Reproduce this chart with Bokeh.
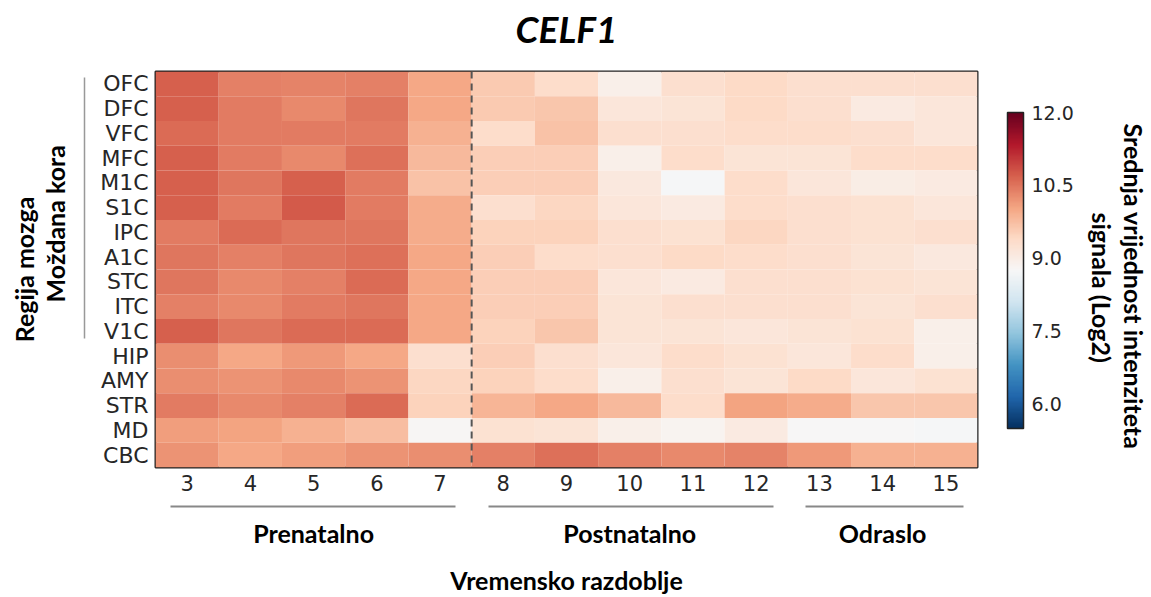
from bokeh.plotting import figure
from bokeh.models import (LinearColorMapper, ColorBar, FixedTicker, PrintfTickFormatter,
                          Span, Range1d, ColumnDataSource, LinearAxis, Title)
from bokeh.embed import file_html
from bokeh.resources import INLINE

# ---------------- data ----------------
regions = ["OFC", "DFC", "VFC", "MFC", "M1C", "S1C", "IPC", "A1C", "STC", "ITC", "V1C",
           "HIP", "AMY", "STR", "MD", "CBC"]
periods = [3, 4, 5, 6, 7, 8, 9, 10, 11, 12, 13, 14, 15]

OFC = [10.70, 10.40, 10.35, 10.40, 10.00, 9.60, 9.35, 8.95, 9.30, 9.40, 9.30, 9.30, 9.30]
DFC = [10.70, 10.45, 10.30, 10.50, 10.00, 9.60, 9.65, 9.15, 9.20, 9.40, 9.30, 9.05, 9.15]
VFC = [10.60, 10.45, 10.45, 10.45, 9.90, 9.35, 9.70, 9.30, 9.30, 9.35, 9.35, 9.30, 9.15]
MFC = [10.70, 10.45, 10.30, 10.55, 9.80, 9.55, 9.55, 8.95, 9.35, 9.20, 9.20, 9.35, 9.35]
M1C = [10.70, 10.50, 10.70, 10.45, 9.70, 9.55, 9.55, 9.10, 8.70, 9.35, 9.15, 9.00, 9.05]
S1C = [10.70, 10.45, 10.75, 10.45, 9.95, 9.30, 9.45, 9.15, 9.05, 9.35, 9.30, 9.25, 9.15]
IPC = [10.45, 10.60, 10.50, 10.50, 9.95, 9.50, 9.50, 9.30, 9.25, 9.45, 9.30, 9.25, 9.30]
A1C = [10.50, 10.40, 10.50, 10.55, 10.00, 9.55, 9.35, 9.30, 9.40, 9.35, 9.30, 9.20, 9.10]
STC = [10.50, 10.30, 10.40, 10.60, 10.00, 9.55, 9.55, 9.15, 9.05, 9.30, 9.30, 9.25, 9.20]
ITC = [10.40, 10.30, 10.45, 10.50, 10.00, 9.55, 9.55, 9.20, 9.30, 9.30, 9.30, 9.20, 9.30]
V1C = [10.70, 10.50, 10.60, 10.60, 10.00, 9.50, 9.65, 9.20, 9.20, 9.15, 9.20, 9.25, 8.95]
HIP = [10.25, 10.00, 10.15, 10.00, 9.30, 9.55, 9.30, 9.15, 9.35, 9.25, 9.15, 9.35, 8.95]
AMY = [10.25, 10.20, 10.30, 10.20, 9.45, 9.50, 9.35, 8.95, 9.30, 9.20, 9.40, 9.15, 9.25]
STR = [10.45, 10.30, 10.40, 10.60, 9.50, 9.85, 10.00, 9.80, 9.35, 10.05, 9.95, 9.65, 9.65]
MD = [10.10, 10.05, 9.90, 9.75, 8.80, 9.25, 9.20, 8.95, 8.85, 9.05, 8.75, 8.75, 8.70]
CBC = [10.20, 10.00, 10.10, 10.20, 10.25, 10.40, 10.55, 10.40, 10.30, 10.35, 10.15, 9.90, 9.90]

region_values = [OFC, DFC, VFC, MFC, M1C, S1C, IPC, A1C, STC, ITC, V1C, HIP, AMY, STR, MD, CBC]

prenatal = [3, 4, 5, 6, 7]
postnatal = [8, 9, 10, 11, 12]
adult = [13, 14, 15]
group_names = ["Prenatalno", "Postnatalno", "Odraslo"]

color_low, color_high = 5.5, 12.0
color_ticks = [6.0, 7.5, 9.0, 10.5, 12.0]

title_text = "CELF1"
x_title = "Vremensko razdoblje"
y_title = "Regija mozga"
cortex_title = "Moždana kora"
cbar_title_1 = "Srednja vrijednost intenziteta"
cbar_title_2 = "signala (Log2)"

# ---------------- palette (RdBu_r) ----------------
rdbu_r = ["#053061", "#2166ac", "#4393c3", "#92c5de", "#d1e5f0", "#f7f7f7",
          "#fddbc7", "#f4a582", "#d6604d", "#b2182b", "#67001f"]


def hex2rgb(h):
    return tuple(int(h[i:i + 2], 16) for i in (1, 3, 5))


def interp_palette(stops, n=256):
    out = []
    rgb = [hex2rgb(s) for s in stops]
    for i in range(n):
        t = i / (n - 1) * (len(rgb) - 1)
        k = min(int(t), len(rgb) - 2)
        f = t - k
        c = [round(rgb[k][j] + (rgb[k + 1][j] - rgb[k][j]) * f) for j in range(3)]
        out.append("#%02x%02x%02x" % tuple(c))
    return out


palette = interp_palette(rdbu_r)

xs, ys, vs = [], [], []
for ri, vals in enumerate(region_values):
    for ci, v in enumerate(vals):
        xs.append(periods[ci])
        ys.append(ri)
        vs.append(v)
source = ColumnDataSource(dict(x=xs, y=ys, v=vs))

# ---------------- figure ----------------
W, H = 1151, 597
FL, FT, FR, FB = 155, 71, 977, 467   # heatmap frame (pixels)
x_lo, x_hi = periods[0] - 0.5, periods[-1] + 0.5
y_top, y_bot = -0.5, len(regions) - 0.5

p = figure(width=W, height=H, output_backend="svg", toolbar_location=None,
           x_range=Range1d(x_lo, x_hi), y_range=Range1d(y_bot, y_top),
           min_border_left=FL, min_border_top=FT,
           min_border_right=W - FR, min_border_bottom=H - FB)
p.title.visible = False
p.background_fill_color = "white"
p.border_fill_color = "white"
p.outline_line_color = "#222222"
p.outline_line_width = 2
p.grid.visible = False

mapper = LinearColorMapper(palette=palette, low=color_low, high=color_high)
p.rect(x="x", y="y", width=1, height=1, source=source,
       fill_color={"field": "v", "transform": mapper}, line_color=None)

# dashed separator between prenatal and postnatal periods
p.add_layout(Span(location=(prenatal[-1] + postnatal[0]) / 2, dimension="height",
                  line_color="#555555", line_width=2, line_dash="7 5"))

sx = (FR - FL) / (x_hi - x_lo)
sy = (FB - FT) / (y_bot - y_top)


def dx(px):
    return x_lo + (px - FL) / sx


def dy(py):
    return y_top + (py - FT) / sy


def hide_ticks(ax):
    ax.axis_line_color = None
    ax.major_tick_line_color = None
    ax.minor_tick_line_color = None
    ax.major_tick_out = 0
    ax.minor_tick_out = 0
    ax.major_tick_in = 0
    ax.minor_tick_in = 0


def spacer_axis(standoff):
    ax = LinearAxis(ticker=FixedTicker(ticks=[]), axis_label=" ",
                    axis_label_text_font_size="1px", axis_label_standoff=standoff,
                    major_label_standoff=0)
    hide_ticks(ax)
    return ax


# main axes
xa = p.xaxis[0]
ya = p.yaxis[0]
hide_ticks(xa)
hide_ticks(ya)
xa.ticker = FixedTicker(ticks=periods)
ya.ticker = FixedTicker(ticks=list(range(len(regions))))
ya.major_label_overrides = {i: r for i, r in enumerate(regions)}
for ax in (xa, ya):
    ax.major_label_text_font = "DejaVu Sans"
    ax.major_label_text_color = "#262626"
xa.major_label_text_font_size = "21px"
xa.major_label_standoff = 7
xa.axis_label = " "
xa.axis_label_text_font_size = "1px"
xa.axis_label_standoff = 9
ya.major_label_text_font_size = "22px"
ya.major_label_standoff = 7
ya.axis_label = " "
ya.axis_label_text_font_size = "1px"
ya.axis_label_standoff = 9

# ---- above: title ----
top_ax = LinearAxis(ticker=FixedTicker(ticks=[]), axis_label=title_text,
                    axis_label_text_font="Lato", axis_label_text_font_size="37px",
                    axis_label_text_font_style="bold italic", axis_label_text_color="black",
                    axis_label_standoff=21, major_label_standoff=0)
hide_ticks(top_ax)
p.add_layout(top_ax, "above")

# ---- below: group axis with separated lines, and x title ----
group_centers = [sum(g) / len(g) for g in (prenatal, postnatal, adult)]
grp_ax = LinearAxis(ticker=FixedTicker(ticks=group_centers),
                    major_label_overrides={c: n for c, n in zip(group_centers, group_names)},
                    major_label_text_font="Lato", major_label_text_font_size="25px",
                    major_label_text_font_style="bold", major_label_text_color="black",
                    major_label_standoff=11,
                    axis_label=x_title, axis_label_text_font="Lato",
                    axis_label_text_font_size="25px", axis_label_text_font_style="bold",
                    axis_label_text_color="black", axis_label_standoff=14)
hide_ticks(grp_ax)
grp_ax.axis_line_color = "#888888"
grp_ax.axis_line_width = 2
grp_ax.bounds = (dx(170), dx(963))
grp_ax.axis_line_dash = "285 33 285 32 158 400"
p.add_layout(grp_ax, "below")

# ---- left: cortex bracket line, cortex title, region title ----
line_ax = spacer_axis(10)
line_ax.axis_line_color = "#999999"
line_ax.axis_line_width = 1.5
line_ax.bounds = (dy(77), dy(338))
p.add_layout(line_ax, "left")

p.add_layout(Title(text=cortex_title, text_font="Lato", text_font_size="25px",
                   text_font_style="bold", text_color="black", align="left",
                   vertical_align="middle", offset=165, standoff=0), "left")

reg_ax = LinearAxis(ticker=FixedTicker(ticks=[]), axis_label=y_title,
                    axis_label_text_font="Lato", axis_label_text_font_size="25px",
                    axis_label_text_font_style="bold", axis_label_text_color="black",
                    axis_label_standoff=0, major_label_standoff=0)
hide_ticks(reg_ax)
p.add_layout(reg_ax, "left")

# ---- right: spacer, colour bar titles ----
p.add_layout(spacer_axis(104), "right")
p.add_layout(Title(text=cbar_title_2, text_font="Lato", text_font_size="25px",
                   text_font_style="bold", text_color="black", align="left",
                   vertical_align="middle", offset=141, standoff=0), "right")
p.add_layout(Title(text=cbar_title_1, text_font="Lato", text_font_size="25px",
                   text_font_style="bold", text_color="black", align="left",
                   vertical_align="middle", offset=52, standoff=0), "right")

# ---- colour bar ----
cbar = ColorBar(color_mapper=mapper, ticker=FixedTicker(ticks=color_ticks),
                formatter=PrintfTickFormatter(format="%.1f"),
                width=16, height=316, location=(852, 39), padding=0,
                label_standoff=8, major_label_text_font_size="19px",
                major_label_text_font="DejaVu Sans", major_label_text_color="#262626",
                major_tick_line_color=None, minor_tick_line_color=None,
                bar_line_color="#222222", bar_line_width=1.5,
                background_fill_color=None, border_line_color=None)
p.add_layout(cbar)

open("out.html", "w").write(file_html(p, INLINE))
